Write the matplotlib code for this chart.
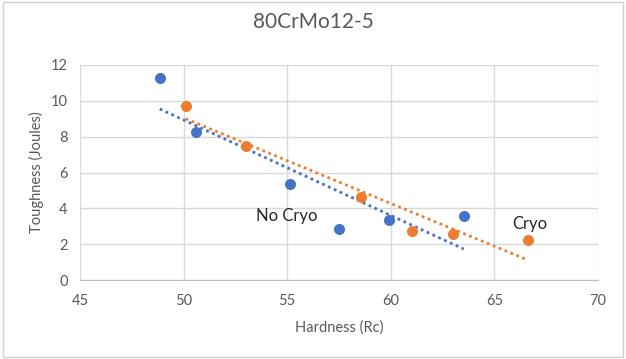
import numpy as np
import matplotlib.pyplot as plt
from matplotlib.patches import Rectangle

# hardness (Rc) and toughness (J)
no_cryo_hardness = [48.85, 50.61, 55.12, 57.48, 59.93, 63.52]
no_cryo_toughness = [11.26, 8.28, 5.34, 2.87, 3.33, 3.59]
cryo_hardness = [50.10, 53.00, 58.55, 61.02, 62.98, 66.62]
cryo_toughness = [9.69, 7.48, 4.65, 2.73, 2.58, 2.21]

x_ticks = [45, 50, 55, 60, 65, 70]
y_ticks = [0, 2, 4, 6, 8, 10, 12]

blue = '#4472C4'
orange = '#ED7D31'
grey_text = '#595959'
grid_col = '#D9D9D9'

plt.rcParams['font.family'] = ['Lato', 'DejaVu Sans']

fig = plt.figure(figsize=(6.26, 3.59), dpi=100)
fig.patches.append(Rectangle((3 / 626, 2 / 359), 620 / 626, 355 / 359,
                             transform=fig.transFigure, fill=False,
                             edgecolor='#D0D0D0', linewidth=1))
ax = fig.add_axes([80 / 626, 1 - 280 / 359, 518 / 626, 215 / 359])

# linear trendlines, spanning each series' x range like Excel does
for xs, ys, col in [(no_cryo_hardness, no_cryo_toughness, blue),
                    (cryo_hardness, cryo_toughness, orange)]:
    m, b = np.polyfit(xs, ys, 1)
    tx = np.array([min(xs), max(xs)])
    ax.plot(tx, m * tx + b, color=col, linestyle=(0, (1, 1.3)), linewidth=2, zorder=2)

ax.scatter(no_cryo_hardness, no_cryo_toughness, s=48, color=blue, zorder=3)
ax.scatter(cryo_hardness, cryo_toughness, s=48, color=orange, zorder=3)

ax.text(55.0, 3.55, 'No Cryo', fontsize=12, color='#262626', ha='center', va='center')
ax.text(66.7, 3.15, 'Cryo', fontsize=12, color='#262626', ha='center', va='center')

ax.set_xlim(45, 70)
ax.set_ylim(0, 12)
ax.set_xticks(x_ticks)
ax.set_yticks(y_ticks)
ax.grid(True, color=grid_col, linewidth=1)
ax.set_axisbelow(True)
for side in ['top', 'right', 'left']:
    ax.spines[side].set_visible(False)
ax.spines['bottom'].set_color('#BFBFBF')
ax.tick_params(axis='both', length=0, labelsize=10.5, labelcolor=grey_text)
ax.tick_params(axis='y', pad=9)
ax.tick_params(axis='x', pad=10)

ax.set_xlabel('Hardness (Rc)', fontsize=10.5, color=grey_text)
ax.set_ylabel('Toughness (Joules)', fontsize=10.5, color=grey_text)
ax.yaxis.set_label_coords(-0.085, 0.5)
ax.xaxis.set_label_coords(0.5, -0.219)
ax.xaxis.label.set_va('center')
ax.yaxis.label.set_va('center')
fig.text(0.5, 1 - 22 / 359, '80CrMo12-5', fontsize=15, color=grey_text,
         ha='center', va='center')

fig.savefig('out.png', dpi=100)
